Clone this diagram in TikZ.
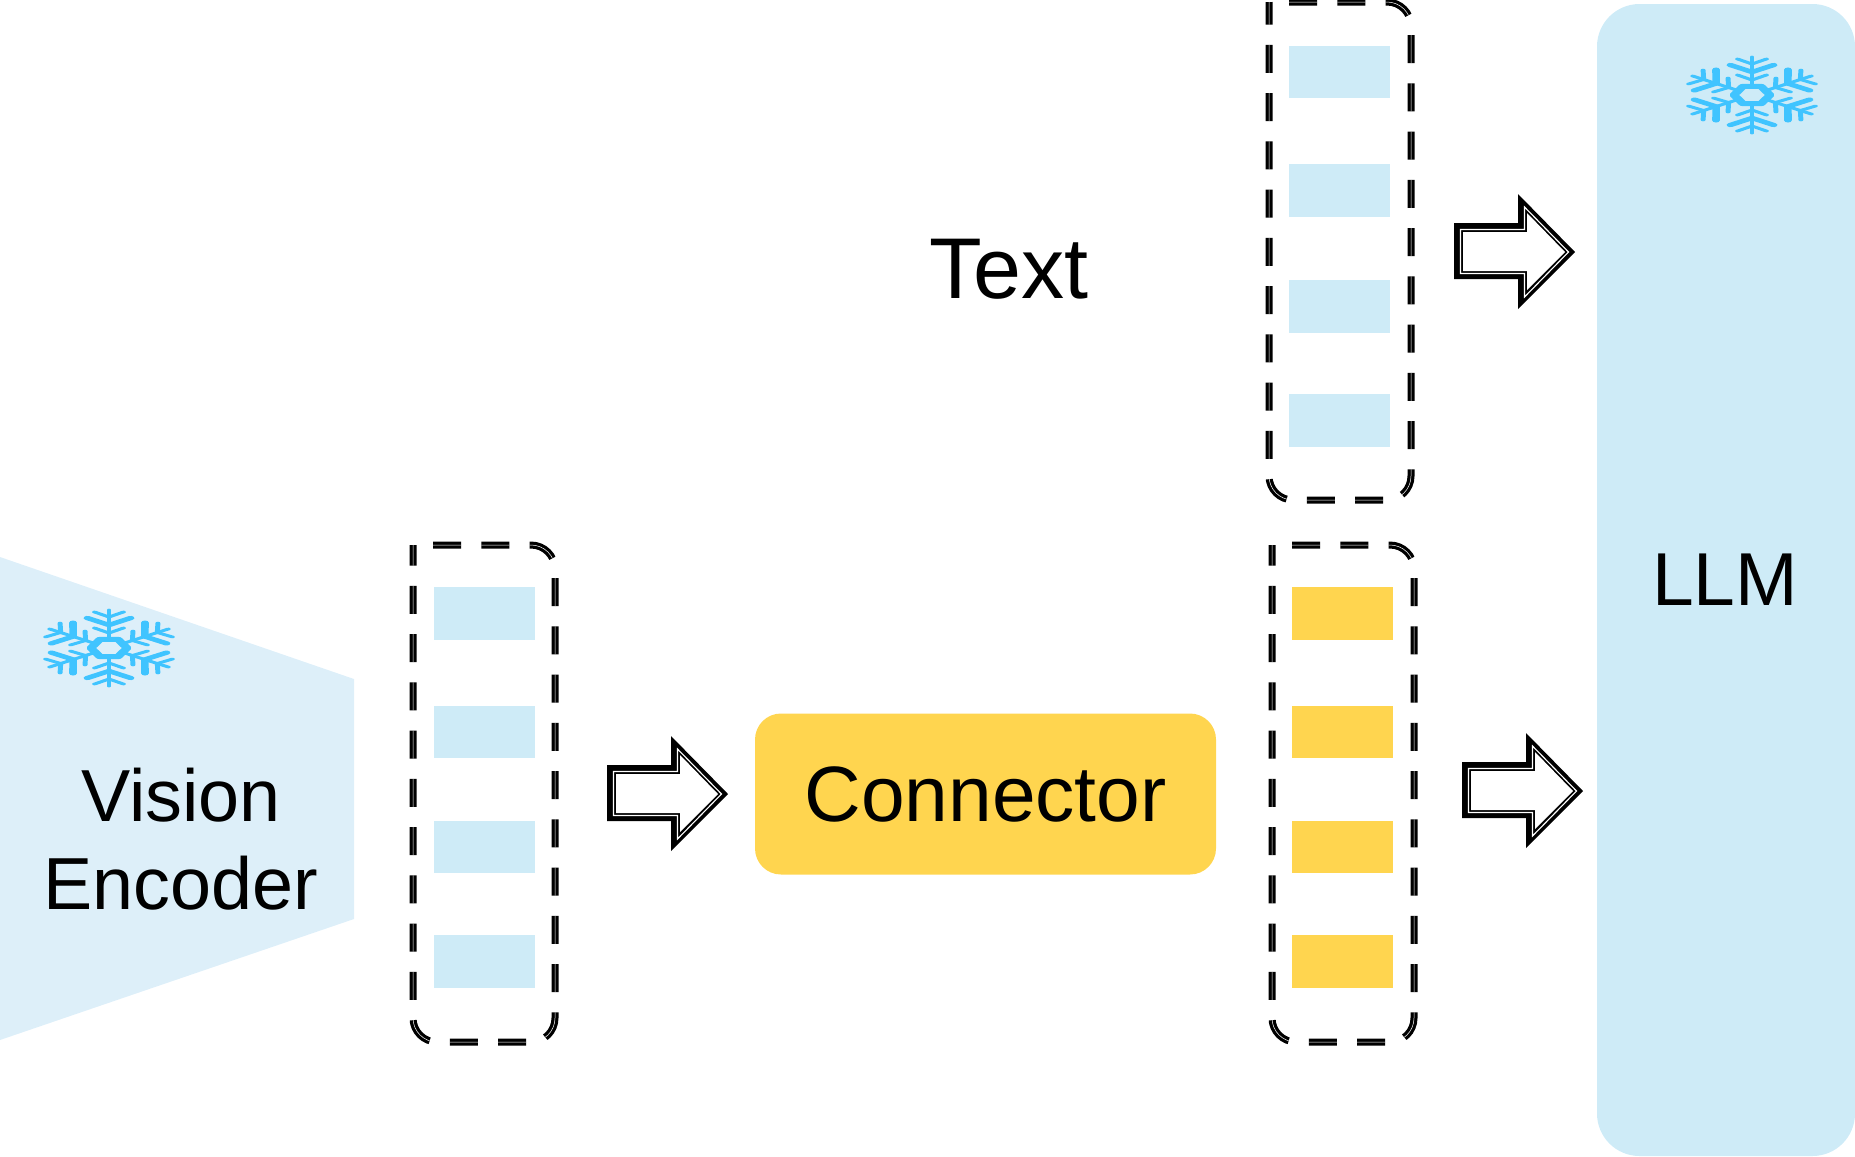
\documentclass[tikz,border=0pt]{standalone}
\usepackage{fontspec}
\setmainfont{Liberation Sans}
\definecolor{encfill}{HTML}{DDEFF9}
\definecolor{tokblue}{HTML}{CEEBF7}
\definecolor{tokyellow}{HTML}{FFD54F}
\definecolor{flakeblue}{HTML}{40C4FF}
\tikzset{
  tokbox/.style={rectangle,inner sep=0pt,minimum width=40.4pt,minimum height=21pt},
  dashbox/.style={draw=black,line width=1.3pt,double=white,double distance=0.2pt,dash pattern=on 11.2pt off 8.1pt,rounded corners=9.6pt},
  label/.style={inner sep=0pt,align=center,text=black}
}
\newcommand{\flake}[2]{%
  \begin{scope}[transform canvas={shift={(#1,#2)},xscale=1.8}]
    \draw[flakeblue,line width=2pt,line join=round] (0:10) -- (60:10) -- (120:10) -- (180:10) -- (240:10) -- (300:10) -- cycle;
    \foreach \a in {0,60,...,300}{
      \begin{scope}[rotate=\a]
        \draw[flakeblue,line width=1.1pt,line cap=round] (0,10) -- (0,38);
        \draw[flakeblue,line width=1.1pt,line cap=round] (-8,20) -- (0,15) -- (8,20);
        \draw[flakeblue,line width=1.7pt,line cap=round] (-12,30) -- (0,23) -- (12,30);
        \draw[flakeblue,line width=1.1pt,line cap=round] (-8,36) -- (0,31) -- (8,36);
      \end{scope}
    }
  \end{scope}
}
\newcommand{\arrowshape}[2]{%
  \begin{scope}[shift={(#1,#2)}]
    \fill[black] (0,-29) -- (64,-29) -- (64,-58) -- (121,0) -- (64,57) -- (64,27) -- (0,27) -- cycle;
    \draw[white,line width=0.45pt] (6.5,-22.5) -- (70.5,-22.5) -- (70.5,-45) -- (114.5,0) -- (70.5,45) -- (70.5,21.5) -- (6.5,21.5) -- cycle;
    \fill[white] (9,-20) -- (73,-20) -- (73,-39) -- (111,0) -- (73,38) -- (73,19) -- (9,19) -- cycle;
  \end{scope}
}
\newcommand{\dashcol}[4]{%
  \draw[dashbox] (#1+20,#2) -- (#3,#2) -- (#3,#4) -- (#1,#4) -- (#1,#2+24) .. controls (#1,#2+19) and (#1+1,#2+15) .. (#1+3,#2+12);
}
\begin{document}
\begin{tikzpicture}[x=0.4pt,y=-0.4pt]
\useasboundingbox (0,0) rectangle (1855,1156);
% LLM
\fill[tokblue,rounded corners=17pt] (1597,4) rectangle (1855,1156);
\node[label,font=\fontsize{30}{36}\selectfont] (llm) at (1725,580) {LLM};
% vision encoder
\fill[encfill] (0,557) -- (354,679) -- (354,919) -- (0,1040) -- cycle;
\node[label,font=\fontsize{29.5}{35.2}\selectfont] (enc) at (181,839) {Vision\\Encoder};
% connector
\node[rectangle,fill=tokyellow,rounded corners=10.4pt,minimum width=184.4pt,minimum height=64.4pt,inner sep=0pt,font=\fontsize{31.4}{36}\selectfont] (conn) at (985.5,794) {Connector};
% text
\node[label,font=\fontsize{34.5}{38}\selectfont] (txt) at (1009,269) {Text};
% token boxes
\dashcol{413}{545}{555}{1042}
\dashcol{1272}{545}{1414}{1042}
\dashcol{1269}{2}{1411}{500}
\foreach \n/\y in {1/613.5,2/732,3/847,4/961.5}{
  \node[tokbox,fill=tokblue] (v\n) at (484.5,\y) {};
  \node[tokbox,fill=tokyellow] (c\n) at (1342.5,\y) {};
}
\foreach \n/\y in {1/72,2/190.5,3/306.5,4/420.5}{
  \node[tokbox,fill=tokblue] (t\n) at (1339.5,\y) {};
}
% arrows
\arrowshape{607}{794}
\arrowshape{1454}{252}
\arrowshape{1462}{791}
% snowflakes
\flake{1752}{95}
\flake{109}{648}
\end{tikzpicture}
\end{document}
